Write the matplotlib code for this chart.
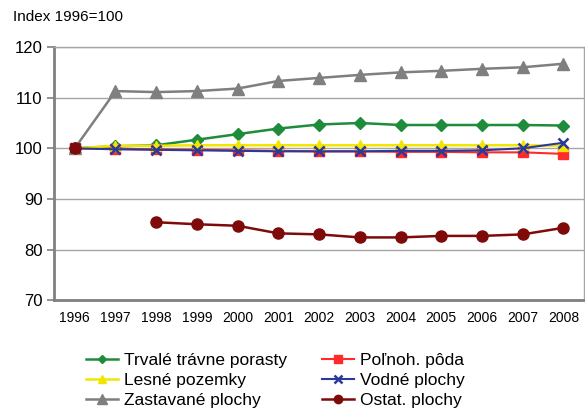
import numpy as np
import matplotlib
matplotlib.use("Agg")
import matplotlib.pyplot as plt

plt.rcParams['font.family'] = ['Liberation Sans', 'DejaVu Sans']

years = ["1996", "1997", "1998", "1999", "2000", "2001", "2002",
         "2003", "2004", "2005", "2006", "2007", "2008"]

trvale = [100, 100.4, 100.6, 101.7, 102.8, 103.9, 104.7, 105.0, 104.6, 104.6, 104.6, 104.6, 104.5]
polnoh = [100, 99.9, 99.8, 99.7, 99.6, 99.5, 99.4, 99.4, 99.3, 99.3, 99.2, 99.2, 98.9]
lesne = [100, 100.5, 100.5, 100.6, 100.6, 100.6, 100.6, 100.6, 100.6, 100.6, 100.6, 100.6, 100.5]
vodne = [100, 99.8, 99.7, 99.6, 99.5, 99.4, 99.4, 99.4, 99.5, 99.5, 99.6, 100.0, 101.1]
zastavane = [100, 111.3, 111.1, 111.3, 111.8, 113.3, 113.9, 114.5, 115.0, 115.3, 115.7, 116.0, 116.7]
ostat = [100, np.nan, 85.4, 85.0, 84.7, 83.2, 83.0, 82.4, 82.4, 82.7, 82.7, 83.0, 84.3]

fig = plt.figure(figsize=(5.85, 4.09), dpi=100)
ax = fig.add_axes([0.093, 0.266, 0.905, 0.619])

x = np.arange(len(years))
h_tr, = ax.plot(x, trvale, color="#1E8C3A", marker="D", ms=6, lw=1.8, label="Trvalé trávne porasty")
h_za, = ax.plot(x, zastavane, color="#7F7F7F", marker="^", ms=9, lw=1.8, label="Zastavané plochy")
h_po, = ax.plot(x, polnoh, color="#FF2A2A", marker="s", ms=7, lw=1.5, label="Poľnoh. pôda")
h_le, = ax.plot(x, lesne, color="#F2E600", marker="^", ms=7, lw=1.8, label="Lesné pozemky")
h_vo, = ax.plot(x, vodne, color="#2B3A9A", marker="x", ms=7, mew=1.8, lw=1.5, label="Vodné plochy")
h_os, = ax.plot(x, ostat, color="#7F0A0A", marker="o", ms=8, lw=1.8, label="Ostat. plochy")

ax.set_xlim(-0.5, len(years) - 0.5)
ax.set_ylim(70, 120)
ax.set_yticks([70, 80, 90, 100, 110, 120])
ax.set_xticks(x)
ax.set_xticklabels(years, fontsize=10)
ax.tick_params(axis="y", labelsize=12, length=5, color="#808080", width=1.2)
ax.tick_params(axis="x", length=0, pad=8)
ax.grid(axis="y", color="#A6A6A6", lw=1)
ax.set_axisbelow(True)
for s in ["top", "right"]:
    ax.spines[s].set_color("#A6A6A6")
    ax.spines[s].set_linewidth(1)
for s in ["left", "bottom"]:
    ax.spines[s].set_color("#808080")
    ax.spines[s].set_linewidth(2)

fig.text(0.022, 0.958, "Index 1996=100", fontsize=11, va="center", ha="left")

fig.legend(handles=[h_tr, h_le, h_za, h_po, h_vo, h_os], ncol=2, frameon=False,
           loc="lower left", bbox_to_anchor=(0.12, -0.035), fontsize=12.5,
           handlelength=1.85, markerscale=0.75, labelspacing=0.28,
           columnspacing=2.0, handletextpad=0.35)

fig.savefig("out.png", dpi=100)
